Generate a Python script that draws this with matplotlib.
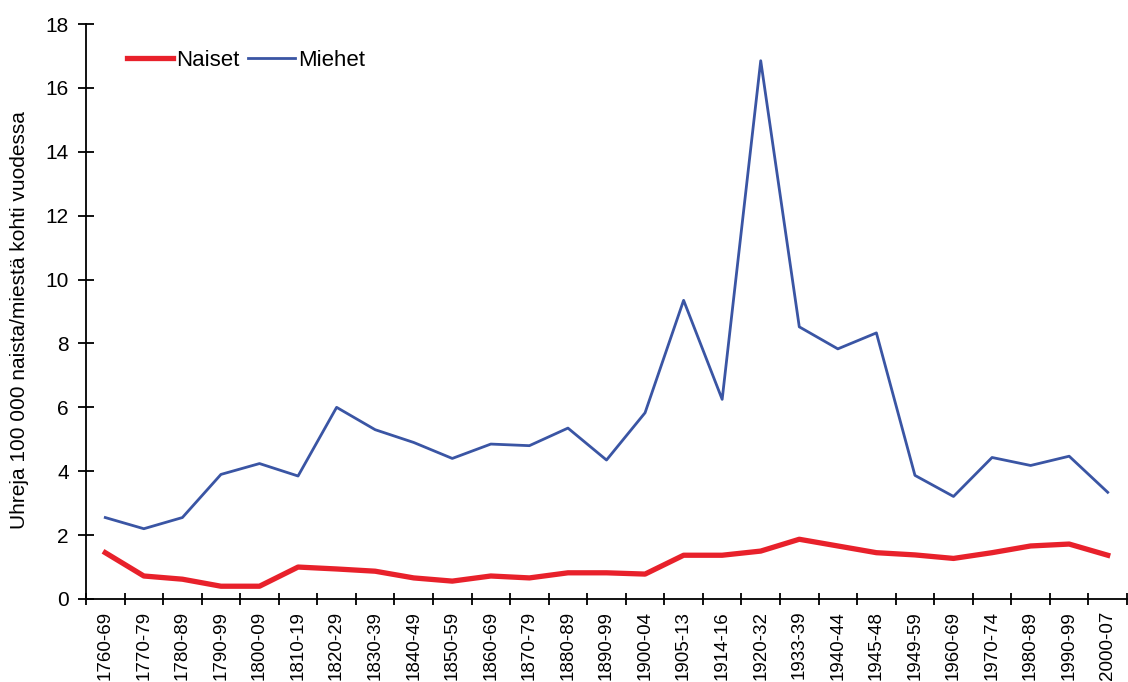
import matplotlib.pyplot as plt
import numpy as np

plt.rcParams['font.family'] = ['Liberation Sans', 'DejaVu Sans']

periods = ['1760-69', '1770-79', '1780-89', '1790-99', '1800-09', '1810-19',
           '1820-29', '1830-39', '1840-49', '1850-59', '1860-69', '1870-79',
           '1880-89', '1890-99', '1900-04', '1905-13', '1914-16', '1920-32',
           '1933-39', '1940-44', '1945-48', '1949-59', '1960-69', '1970-74',
           '1980-89', '1990-99', '2000-07']

naiset = [1.45, 0.72, 0.62, 0.4, 0.4, 1.0, 0.94, 0.87, 0.66, 0.56, 0.72, 0.66,
          0.82, 0.82, 0.78, 1.37, 1.37, 1.5, 1.87, 1.66, 1.45, 1.38, 1.27, 1.45,
          1.66, 1.72, 1.37]
miehet = [2.55, 2.2, 2.55, 3.9, 4.24, 3.85, 6.0, 5.3, 4.9, 4.4, 4.85, 4.8,
          5.35, 4.35, 5.83, 9.35, 6.25, 16.85, 8.52, 7.83, 8.33, 3.87, 3.21, 4.43,
          4.18, 4.47, 3.34]

x = np.arange(len(periods))

fig = plt.figure(figsize=(11.28, 6.82), dpi=100)
ax = fig.add_axes([86/1128, 1-599/682, (1127-86)/1128, 575/682])

ax.plot(x, naiset, color='#e8212b', lw=3.8, label='Naiset')
ax.plot(x, miehet, color='#3a55a4', lw=2.0, label='Miehet')

ax.set_xlim(-0.5, len(periods) - 0.5)
ax.set_ylim(0, 18)
ax.set_yticks(np.arange(0, 19, 2))
ax.tick_params(axis='y', labelsize=15, direction='inout', length=11, width=1.3, pad=7)

# category labels at centres, tick marks at boundaries
ax.set_xticks(x)
ax.set_xticklabels(periods, rotation=90, fontsize=13.5)
ax.tick_params(axis='x', which='major', length=0, pad=8.5)
ax.set_xticks(np.arange(-0.5, len(periods) + 0.5, 1), minor=True)
ax.tick_params(axis='x', which='minor', direction='inout', length=9, width=1.3)

for s in ['top', 'right']:
    ax.spines[s].set_visible(False)
for s in ['left', 'bottom']:
    ax.spines[s].set_linewidth(1.3)

ax.set_ylabel('Uhreja 100 000 naista/miestä kohti vuodessa', fontsize=15, labelpad=12)
ax.yaxis.label.set_y(0.485)

ax.legend(loc='upper left', bbox_to_anchor=(0.02, 0.99), ncol=2, frameon=False,
          fontsize=16, handlelength=2.1, handletextpad=0.12, columnspacing=0.4)

fig.savefig('out.png', dpi=100)
